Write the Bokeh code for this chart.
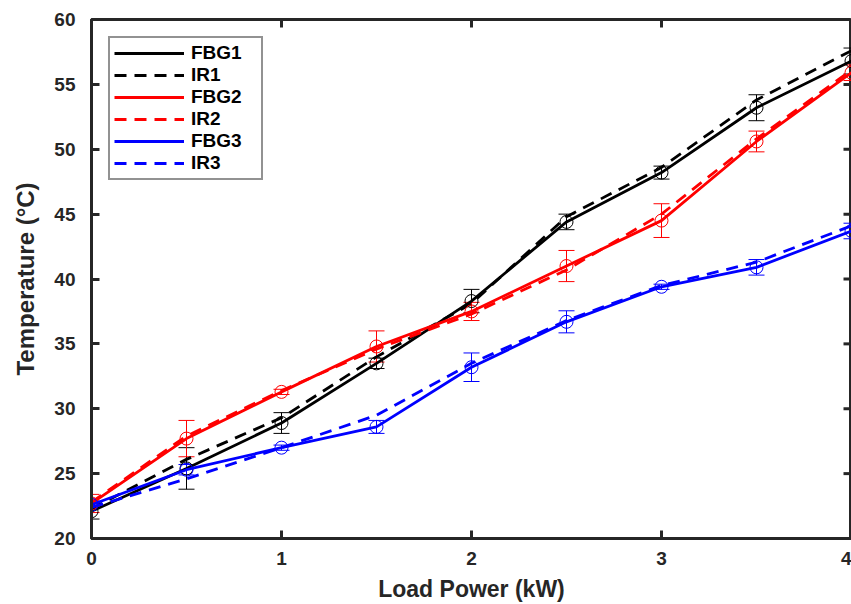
import math
from bokeh.plotting import figure
from bokeh.models import (Whisker, ColumnDataSource, Legend, LegendItem,
                          FixedTicker, Range1d, TeeHead)
from bokeh.embed import file_html
from bokeh.resources import INLINE

load_kw = [0, 0.5, 1, 1.5, 2, 2.5, 3, 3.5, 4]

fbg1 = [22.1, 25.4, 28.9, 33.5, 38.3, 44.4, 48.2, 53.2, 56.8]
ir1 = [22.3, 26.1, 29.3, 34.0, 38.1, 44.8, 48.6, 53.8, 57.6]
fbg2 = [22.7, 27.7, 31.3, 34.8, 37.5, 41.0, 44.5, 50.6, 55.9]
ir2 = [22.8, 27.9, 31.4, 34.6, 37.3, 40.7, 45.0, 50.8, 56.1]
fbg3 = [22.6, 25.3, 27.0, 28.6, 33.2, 36.7, 39.4, 40.9, 43.7]
ir3 = [22.4, 24.6, 27.0, 29.5, 33.5, 36.8, 39.5, 41.3, 44.1]

fbg1_err = [0.6, 1.6, 0.8, 0.4, 0.9, 0.6, 0.5, 1.0, 1.0]
fbg2_err = [0.7, 1.4, 0.2, 1.2, 0.7, 1.2, 1.3, 0.8, 0.6]
fbg3_err = [0.3, 0.4, 0.2, 0.5, 1.1, 0.85, 0.2, 0.6, 0.6]

x_ticks = [0, 1, 2, 3, 4]
y_ticks = [20, 25, 30, 35, 40, 45, 50, 55, 60]
x_min, x_max = 0, 4
y_min, y_max = 20, 60

FONT = "Liberation Sans"
AXC = "#262626"

p = figure(width=851, height=604, x_range=Range1d(x_min, x_max), y_range=Range1d(y_min, y_max),
           output_backend="svg", toolbar_location=None,
           min_border_left=91, min_border_right=0, min_border_top=19, min_border_bottom=65)
p.xgrid.visible = False
p.ygrid.visible = False
p.outline_line_color = AXC
p.outline_line_width = 3
p.background_fill_color = "white"

for ax in [p.xaxis[0], p.yaxis[0]]:
    ax.axis_line_width = 3
    ax.axis_line_color = AXC
    ax.major_tick_in = 8
    ax.major_tick_out = 0
    ax.major_tick_line_width = 3
    ax.major_tick_line_color = AXC
    ax.minor_tick_line_color = None
    ax.major_label_text_font = FONT
    ax.major_label_text_font_style = "bold"
    ax.major_label_text_font_size = "19px"
    ax.major_label_text_color = AXC
    ax.axis_label_text_font = FONT
    ax.axis_label_text_font_style = "bold"
    ax.axis_label_text_color = AXC

p.xaxis[0].ticker = FixedTicker(ticks=x_ticks)
p.yaxis[0].ticker = FixedTicker(ticks=y_ticks)
p.xaxis[0].axis_label = "Load Power (kW)"
p.yaxis[0].axis_label = "Temperature (°C)"
p.xaxis[0].axis_label_text_font_size = "23px"
p.yaxis[0].axis_label_text_font_size = "24px"
p.xaxis[0].major_label_standoff = 13
p.yaxis[0].major_label_standoff = 16
p.xaxis[0].axis_label_standoff = 8
p.yaxis[0].axis_label_standoff = 12

# mirrored inward ticks on the top and right edges (clipped to the frame)
p.scatter(x_ticks, [y_max] * len(x_ticks), marker="dash", angle=math.pi / 2, size=16,
          line_color=AXC, line_width=3)
p.scatter([x_max] * len(y_ticks), y_ticks, marker="dash", size=16,
          line_color=AXC, line_width=3)

series = [
    (fbg1, fbg1_err, ir1, "black", "FBG1", "IR1"),
    (fbg2, fbg2_err, ir2, "red", "FBG2", "IR2"),
    (fbg3, fbg3_err, ir3, "blue", "FBG3", "IR3"),
]

items = []
for fbg, err, ir, col, lab_f, lab_i in series:
    src = ColumnDataSource(dict(x=load_kw, y=fbg,
                                upper=[v + e for v, e in zip(fbg, err)],
                                lower=[v - e for v, e in zip(fbg, err)]))
    w = Whisker(source=src, base="x", upper="upper", lower="lower",
                line_color=col, line_width=1,
                upper_head=TeeHead(size=16, line_color=col, line_width=1),
                lower_head=TeeHead(size=16, line_color=col, line_width=1))
    p.add_layout(w)
    r_f = p.line("x", "y", source=src, line_color=col, line_width=2.8)
    r_i = p.line(load_kw, ir, line_color=col, line_width=2.8, line_dash="12 8")
    p.scatter("x", "y", source=src, marker="circle", size=13, fill_color=None,
              line_color=col, line_width=1)
    items.append(LegendItem(label=lab_f, renderers=[r_f]))
    items.append(LegendItem(label=lab_i, renderers=[r_i]))

legend = Legend(items=items, location="top_left")
legend.margin = 17
legend.padding = 4
legend.spacing = 0
legend.glyph_width = 70
legend.glyph_height = 20
legend.label_height = 20
legend.label_width = 66
legend.label_standoff = 7
legend.label_text_font = FONT
legend.label_text_font_style = "bold"
legend.label_text_font_size = "19px"
legend.label_text_color = "black"
legend.border_line_color = AXC
legend.border_line_width = 2
legend.background_fill_color = "white"
legend.background_fill_alpha = 1
p.add_layout(legend)

open("out.html", "w").write(file_html(p, INLINE))
